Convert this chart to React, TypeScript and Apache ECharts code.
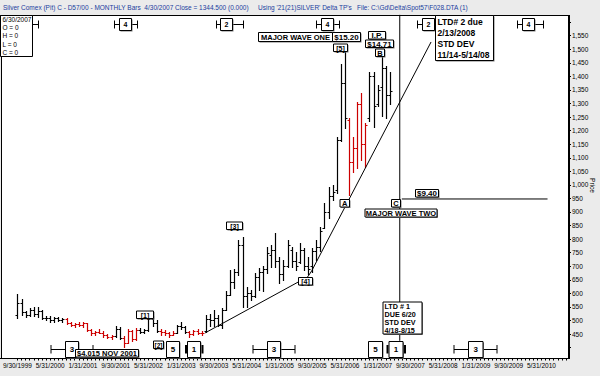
import React, { useEffect, useRef } from 'react';
import * as echarts from 'echarts';

// ---------- categories (monthly, month-end labels) ----------
const START_YEAR = 1999;
const START_MONTH = 8; // September (0-based)
const MONTH_COUNT = 135;
const categories: string[] = Array.from({ length: MONTH_COUNT }, (_, k) => {
  const m = START_MONTH + k;
  const y = START_YEAR + Math.floor(m / 12);
  const mm = m % 12;
  const last = new Date(y, mm + 1, 0).getDate();
  return `${mm + 1}/${last}/${y}`;
});

// ---------- monthly OHLC (cents), Sep 1999 .. Apr 2007 ----------
const opens = [
  520, 565, 530, 520, 540, 525, 535, 510, 508, 500,
  508, 503, 505, 492, 485, 488, 482, 490, 465, 452,
  458, 455, 445, 440, 442, 470, 435, 418, 462, 430,
  465, 458, 466, 505, 490, 462, 458, 452, 448, 455,
  478, 475, 458, 450, 460, 455, 460, 505, 500, 510,
  485, 540, 595, 640, 680, 780, 590, 600, 590, 660,
  680, 690, 740, 760, 720, 670, 700, 760, 720, 715,
  760, 700, 700, 755, 770, 840, 900, 960, 980, 1166,
  1376, 1240, 1086, 1135, 1300, 1150, 1245, 1400, 1300, 1362,
  1430, 1330,
];
const highs = [
  597, 578, 535, 545, 550, 548, 540, 518, 515, 512,
  512, 510, 508, 496, 492, 494, 496, 492, 468, 462,
  470, 460, 450, 446, 478, 474, 442, 468, 465, 472,
  472, 470, 512, 515, 500, 470, 466, 458, 462, 482,
  493, 478, 462, 465, 468, 462, 520, 525, 539, 520,
  546, 607, 686, 690, 797, 809, 625, 613, 674, 692,
  700, 772, 778, 821, 735, 723, 797, 772, 754, 785,
  766, 735, 766, 797, 843, 932, 994, 1000, 1178, 1445,
  1520, 1245, 1178, 1307, 1338, 1228, 1415, 1418, 1370, 1471,
  1440, 1418,
];
const lows = [
  508, 520, 512, 515, 515, 512, 505, 500, 496, 496,
  498, 496, 488, 480, 476, 478, 476, 462, 448, 446,
  452, 440, 436, 432, 438, 430, 401.5, 415, 425, 428,
  452, 455, 462, 478, 458, 448, 446, 440, 445, 452,
  470, 455, 440, 446, 450, 446, 459, 478, 478, 478,
  472, 539, 594, 620, 668, 551, 551, 576, 585, 613,
  610, 674, 698, 698, 637, 650, 698, 698, 686, 711,
  686, 672, 680, 723, 757, 840, 877, 945, 970, 1160,
  1210, 963, 1049, 1061, 1092, 1067, 1235, 1212, 1290, 1255,
  1246, 1300,
];
const closes = [
  565, 530, 520, 540, 525, 535, 510, 508, 500, 508,
  503, 505, 492, 485, 488, 482, 490, 465, 452, 458,
  455, 445, 440, 442, 470, 435, 418, 462, 430, 465,
  458, 466, 505, 490, 462, 458, 452, 448, 455, 478,
  475, 458, 450, 460, 455, 452, 505, 500, 510, 485,
  540, 595, 640, 680, 780, 590, 600, 590, 660, 680,
  690, 750, 760, 720, 670, 700, 780, 720, 700, 760,
  700, 690, 755, 770, 830, 900, 960, 975, 1166, 1376,
  1247, 1086, 1135, 1300, 1150, 1220, 1400, 1290, 1350, 1430,
  1330, 1344.5,
];
// 1 = bar drawn red
const redBars = [
  0, 0, 0, 0, 0, 0, 0, 0, 0, 0,
  0, 0, 1, 1, 1, 1, 1, 1, 1, 1,
  1, 1, 1, 1, 0, 0, 1, 1, 1, 1,
  0, 0, 0, 0, 0, 1, 1, 1, 1, 0,
  0, 0, 1, 1, 1, 1, 0, 0, 0, 0,
  0, 0, 0, 0, 0, 0, 0, 0, 0, 0,
  0, 0, 0, 0, 0, 0, 0, 0, 0, 0,
  0, 0, 0, 0, 0, 0, 0, 0, 0, 0,
  0, 1, 1, 1, 1, 1, 0, 0, 0, 0,
  0, 0,
];

// ---------- overlay lines (month index, price) ----------
const trendIdx = [45.85, 70.94, 71.9, 101.05];
const trendVal = [454, 661, 683, 1527];
const ltdIdx = 93.4;
const ltdTop = 1627;
const ltdBottom = 425;
const waveTwoIdx = [93.9, 129.5];
const waveTwoVal = 948;

// ---------- y axis ----------
const Y_MIN = 400;
const Y_MAX = 1600;
const Y_STEP = 50;
const Y_LABEL_MIN = 450;
const Y_LABEL_MAX = 1550;

const RED = '#cc0000';
const FONT = '"Liberation Sans", Arial, Helvetica, sans-serif';

// ---------- annotation graphics ----------
const els: any[] = [];
const Z = 100;
function ln(x1: number, y1: number, x2: number, y2: number, lw = 1, color = '#000', z = Z) {
  els.push({ type: 'line', z, silent: true, shape: { x1, y1, x2, y2 }, style: { stroke: color, lineWidth: lw } });
}
function rc(x: number, y: number, w: number, h: number, fill: string, stroke?: string, z = Z) {
  const style: any = { fill };
  if (stroke) { style.stroke = stroke; style.lineWidth = 1; }
  els.push({ type: 'rect', z, silent: true, shape: { x, y, width: w, height: h }, style });
}
function tx(x: number, y: number, text: string, size: number, o: any = {}) {
  const align = o.align || 'left';
  const vAlign = o.vAlign || 'middle';
  els.push({
    type: 'text', z: o.z ?? Z + 1, silent: true, x, y, rotation: o.rotation || 0,
    style: {
      text, fill: o.color || '#000',
      font: `${o.bold ? 'bold ' : ''}${size}px ${FONT}`,
      textAlign: align, textVerticalAlign: vAlign, align, verticalAlign: vAlign,
      lineHeight: o.lineHeight,
    },
  });
}
function tag(x: number, y: number, w: number, h: number, label: string, size = 7.5, fill = '#fff') {
  rc(x + 1.5, y + 1.5, w, h, '#7a7a7a');
  rc(x + 0.5, y + 0.5, w, h, fill, '#000');
  tx(x + 0.5 + w / 2, y + 0.5 + h / 2 + 0.3, label, size, { bold: true, align: 'center' });
}
function cycleTop(xl: number, bx: number, xr: number | null, label: string) {
  ln(xl, 24.5, xr ?? bx, 24.5);
  ln(xl, 20.5, xl, 28.5);
  if (xr !== null) ln(xr, 20.5, xr, 28.5);
  tag(bx, 18, 12, 12, label, 7);
}
function cycleBot(xl: number, bx: number, bw: number, xr: number, label: string) {
  ln(xl, 349.5, xr, 349.5);
  ln(xl, 345, xl, 353.5);
  ln(xr, 345, xr, 353.5);
  tag(bx, 341, bw, 16, label, 8);
}

// plot background + frame
rc(1, 15, 568, 343, '#fff', undefined, -10);
ln(0, 15.5, 570, 15.5, 1, '#000', 50);
ln(1.5, 15, 1.5, 358, 1, '#000', 50);
ln(569, 15, 569, 358.5, 2, '#000', 50);
ln(0, 358.5, 570, 358.5, 1, '#000', 50);

// header
const HDR = '#1a3d9e';
tx(3, 7.5, 'Silver Comex (Pit) C - D57/00 - MONTHLY Bars  4/30/2007 Close = 1344.500 (0.000)', 6.5, { color: HDR });
tx(258, 7.5, "Using '21(21)SILVER' Delta TP's", 6.5, { color: HDR });
tx(357, 7.5, 'File: C:\\Gd\\Delta\\Spot57\\F028.DTA (1)', 6.5, { color: HDR });

// legend box
rc(0.5, 15.5, 32, 41, '#fff', '#000');
['6/30/2007', 'O = 0', 'H = 0', 'L = 0', 'C = 0'].forEach((t, i) => tx(2.5, 19.5 + i * 8.2, t, 6.5));

// top cycle markers
ln(33, 24.5, 38.5, 24.5); ln(38.5, 20.5, 38.5, 28.5);
cycleTop(114.5, 119, 137.5, '4');
cycleTop(216.5, 220, 243.5, '2');
cycleTop(316.5, 321, 339.5, '4');
cycleTop(417.5, 422, null, '2');
cycleTop(517.5, 522, 543.5, '4');

// LTD #2 box
rc(436.5, 16.5, 58, 45, '#7a7a7a');
rc(435.5, 15.5, 58, 45, '#fff', '#000');
tx(437.5, 16, 'LTD# 2 due\n2/13/2008\nSTD DEV\n11/14-5/14/08', 8.5, { bold: true, vAlign: 'top', lineHeight: 11 });

// bottom cycle markers
cycleBot(51, 65, 13, 93, '3');
tag(166, 341, 13, 16, '5', 8);
rc(185, 345, 2, 8.5, '#000');
tag(187, 341, 13, 16, '1', 8);
rc(201.5, 345, 2, 8.5, '#000');
cycleBot(253, 267, 13, 295, '3');
tag(368, 341, 14, 16, '5', 8);
rc(386.5, 345, 2, 8.5, '#000');
tag(388.5, 341, 14, 16, '1', 8);
rc(404, 345, 2, 8.5, '#000');
cycleBot(454, 468, 14.5, 497, '3');

// wave labels
tag(75, 349, 63, 7.5, '$4.015 NOV 2001', 7.5);
tag(136, 310.5, 17, 7.5, '[1]', 7);
tag(153, 340.5, 10, 7.5, '[2]', 6.5);
tag(226, 221.5, 16, 7.5, '[3]', 7);
tag(298, 277, 14, 7.5, '[4]', 7);
tag(333, 43.5, 14, 7.5, '[5]', 7);
tag(258, 32, 74, 9, 'MAJOR WAVE ONE', 7.5);
tag(332, 32, 28, 9, '$15.20', 8);
tag(368, 31, 17, 7.5, 'I.P.', 8);
tag(365, 39.5, 28, 7.5, '$14.71', 8);
tag(375, 48.5, 9, 7.5, 'B', 7.5);
tag(339.5, 199, 9.5, 7.5, 'A', 7.5);
tag(391, 199, 9, 7.5, 'C', 7.5);
tag(415, 189, 23, 7.5, '$9.40', 8);
tag(364.5, 208.5, 72, 8, 'MAJOR WAVE TWO', 7.5);

// LTD #1 box
rc(384, 303, 39, 32, '#7a7a7a');
rc(383, 302, 39, 32, '#fff', '#000');
tx(384.5, 303, 'LTD # 1\nDUE 6/20\nSTD DEV\n4/18-8/15', 7.2, { bold: true, vAlign: 'top', lineHeight: 7.8 });

// axis title
tx(592, 185.5, 'Price', 6.5, { align: 'center', rotation: -Math.PI / 2 });

// ---------- series data ----------
const barData = opens.map((o, i) => [i, o, highs[i], lows[i], closes[i], redBars[i]]);
const trendData = trendIdx.map((x, i) => [x, trendVal[i]]);

function renderBar(params: any, api: any) {
  const i = api.value(0);
  const h = api.coord([i, api.value(2)]);
  const l = api.coord([i, api.value(3)]);
  const o = api.coord([i, api.value(1)]);
  const c = api.coord([i, api.value(4)]);
  const color = api.value(5) ? RED : '#000';
  const x = Math.round(h[0]) + 0.5;
  const yo = Math.round(o[1]) + 0.5;
  const yc = Math.round(c[1]) + 0.5;
  const st = { stroke: color, lineWidth: 1 };
  return {
    type: 'group',
    children: [
      { type: 'line', shape: { x1: x, y1: Math.round(h[1]), x2: x, y2: Math.round(l[1]) + 1 }, style: { stroke: color, lineWidth: 1.2 } },
      { type: 'line', shape: { x1: x - 2, y1: yo, x2: x, y2: yo }, style: st },
      { type: 'line', shape: { x1: x, y1: yc, x2: x + 2, y2: yc }, style: st },
    ],
  };
}

const option: any = {
  animation: false,
  backgroundColor: '#ebebeb',
  grid: { left: 3, right: 32, top: 22.19, bottom: 28.44, containLabel: false },
  xAxis: [
    {
      type: 'category',
      data: categories,
      boundaryGap: true,
      offset: 10.94,
      axisLine: { show: false, onZero: false },
      axisTick: { show: true, interval: 0, alignWithLabel: true, length: 2, lineStyle: { color: '#000' } },
      axisLabel: { interval: 7, fontSize: 6.5, color: '#000', fontFamily: FONT, margin: 3 },
      splitLine: { show: false },
    },
    { type: 'value', min: -0.5, max: MONTH_COUNT - 0.5, show: false, axisLine: { onZero: false } },
  ],
  yAxis: {
    type: 'value',
    position: 'right',
    min: Y_MIN,
    max: Y_MAX,
    interval: Y_STEP,
    axisLine: { show: false, onZero: false },
    axisTick: { show: true, length: 3, lineStyle: { color: '#000' } },
    axisLabel: {
      fontSize: 6.5, color: '#000', fontFamily: FONT, margin: 4,
      formatter: (v: number) => (v < Y_LABEL_MIN || v > Y_LABEL_MAX ? '' : v.toLocaleString('en-US')),
    },
    splitLine: { show: false },
  },
  series: [
    {
      type: 'custom',
      name: 'Silver',
      xAxisIndex: 0,
      yAxisIndex: 0,
      renderItem: renderBar,
      encode: { x: 0, y: [1, 2, 3, 4] },
      data: barData,
      silent: true,
    },
    {
      type: 'line', xAxisIndex: 1, data: trendData, symbol: 'none', clip: false, silent: true,
      lineStyle: { color: '#000', width: 1 },
    },
    {
      type: 'line', xAxisIndex: 1, data: [[ltdIdx, ltdTop], [ltdIdx, ltdBottom]], symbol: 'none', clip: false, silent: true,
      lineStyle: { color: '#000', width: 1 },
    },
    {
      type: 'line', xAxisIndex: 1, data: waveTwoIdx.map((x) => [x, waveTwoVal]), symbol: 'none', clip: false, silent: true,
      lineStyle: { color: '#000', width: 1 },
    },
  ],
  graphic: { elements: els },
};

export default function App() {
  const ref = useRef<HTMLDivElement>(null);
  useEffect(() => {
    const chart = echarts.init(ref.current!, undefined, { renderer: 'svg' });
    chart.setOption(option);
    return () => chart.dispose();
  }, []);
  return <div ref={ref} style={{ position: 'fixed', left: 0, top: 0, width: 600, height: 376 }} />;
}
